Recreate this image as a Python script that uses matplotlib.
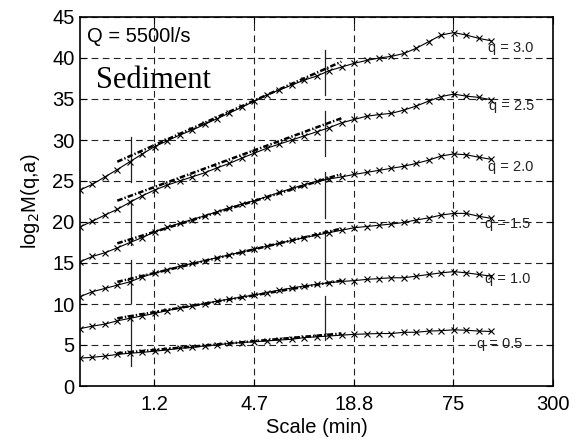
import numpy as np
import matplotlib
matplotlib.use("Agg")
import matplotlib.pyplot as plt

plt.rcParams['font.family'] = ['Liberation Sans', 'DejaVu Sans']
plt.rcParams['lines.scale_dashes'] = False

# Scales: 25 s sampling, quarter-octave steps (minutes)
dt_min = 25 / 60
scales = dt_min * 2 ** (np.arange(34) / 4)

q_labels = ["q = 3.0", "q = 2.5", "q = 2.0", "q = 1.5", "q = 1.0", "q = 0.5"]

logM_q30 = [23.9, 24.6, 25.5, 26.4, 27.35, 28.3, 29.2, 29.9, 30.6, 31.2,
            31.9, 32.6, 33.3, 34.0, 34.75, 35.5, 36.1, 36.7, 37.3, 37.8,
            38.45, 38.9, 39.35, 39.7, 40.0, 40.2, 40.55, 41.2, 42.0, 42.8,
            43.1, 42.8, 42.4, 42.1]
logM_q25 = [19.4, 20.1, 20.85, 21.55, 22.4, 23.2, 23.9, 24.5, 25.0, 25.5,
            26.0, 26.6, 27.15, 27.8, 28.4, 29.0, 29.5, 30.0, 30.5, 31.0,
            31.5, 32.1, 32.5, 32.9, 33.1, 33.25, 33.65, 34.15, 34.75, 35.3,
            35.6, 35.35, 35.2, 34.9]
logM_q20 = [15.15, 15.8, 16.25, 16.85, 17.5, 18.1, 18.8, 19.35, 19.85, 20.3,
            20.75, 21.25, 21.75, 22.2, 22.6, 23.1, 23.6, 24.1, 24.55, 24.95,
            25.25, 25.5, 25.8, 26.05, 26.3, 26.55, 26.8, 27.15, 27.55, 28.05,
            28.3, 28.2, 27.9, 27.65]
logM_q15 = [10.9, 11.5, 11.9, 12.3, 12.7, 13.3, 13.75, 14.2, 14.6, 14.95,
            15.3, 15.65, 16.0, 16.35, 16.7, 17.05, 17.4, 17.75, 18.1, 18.4,
            18.7, 19.0, 19.3, 19.45, 19.6, 19.75, 19.95, 20.25, 20.5, 20.85,
            21.05, 21.05, 20.7, 20.45]
logM_q10 = [7.0, 7.3, 7.55, 7.95, 8.25, 8.55, 8.85, 9.2, 9.5, 9.75,
            10.05, 10.35, 10.6, 10.85, 11.1, 11.4, 11.7, 11.95, 12.2, 12.4,
            12.6, 12.75, 12.85, 13.0, 13.1, 13.2, 13.2, 13.4, 13.6, 13.8,
            13.95, 13.8, 13.6, 13.4]
logM_q05 = [3.4, 3.5, 3.65, 3.85, 4.0, 4.1, 4.25, 4.4, 4.6, 4.7,
            4.9, 5.0, 5.2, 5.3, 5.4, 5.5, 5.6, 5.7, 5.9, 6.0,
            6.1, 6.2, 6.3, 6.35, 6.4, 6.4, 6.55, 6.55, 6.7, 6.75,
            6.85, 6.8, 6.7, 6.65]
curves = [logM_q30, logM_q25, logM_q20, logM_q15, logM_q10, logM_q05]

# Linear fits over the scaling range
fit_range = [0.70, 15.8]
fit_start = [27.35, 22.6, 17.4, 12.7, 8.25, 4.0]
fit_end = [39.55, 32.65, 25.85, 19.2, 12.85, 6.4]

# Curve labels
label_x = [121, 123, 121, 117, 117, 104]
label_y = [41.2, 34.1, 26.7, 19.8, 13.1, 5.1]

# Scaling-range markers
left_mark_x = 0.845
left_marks = [(24.9, 30.4), (17.2, 22.7), (10.1, 15.4), (2.4, 8.3)]
right_mark_x = 12.6
right_marks = [(35.5, 41.0), (28.0, 33.5), (20.5, 26.1), (13.0, 19.0), (5.6, 11.0)]

xticks = [300 / 256, 300 / 64, 300 / 16, 300 / 4, 300]
xtick_labels = ["1.2", "4.7", "18.8", "75", "300"]
yticks = list(range(0, 46, 5))

fig = plt.figure(figsize=(5.78, 4.43), dpi=100)
ax = fig.add_axes([80 / 578, 57 / 443, 473 / 578, 369 / 443])

for y in curves:
    ax.plot(scales, y, color='black', lw=0.8, marker='x', ms=4.5, mew=0.8, zorder=3)

for a, b in zip(fit_start, fit_end):
    ax.plot(fit_range, [a, b], color='black', lw=1.8, ls=(0, (4, 1.5, 1, 1.5)), zorder=3)

for lo, hi in left_marks:
    ax.plot([left_mark_x, left_mark_x], [lo, hi], color='#222222', lw=0.9, zorder=2)
for lo, hi in right_marks:
    ax.plot([right_mark_x, right_mark_x], [lo, hi], color='#222222', lw=0.9, zorder=2)

for lab, lx, ly in zip(q_labels, label_x, label_y):
    ax.text(lx, ly, lab, fontsize=10.5, ha='left', va='center', color='#222222', zorder=1)

ax.text(0.015, 0.948, "Q = 5500l/s", transform=ax.transAxes, fontsize=14.5,
        ha='left', va='center', zorder=1)
ax.text(0.034, 0.828, "Sediment", transform=ax.transAxes, fontsize=22,
        family='Liberation Serif', ha='left', va='center', zorder=1)

ax.set_xscale('log', base=2)
ax.set_xlim(dt_min, 300)
ax.set_ylim(0, 45)
ax.set_xticks(xticks)
ax.set_xticklabels(xtick_labels)
ax.set_yticks(yticks)
ax.minorticks_off()
ax.tick_params(direction='in', length=5, width=0.8, labelsize=14.5,
               top=True, right=True)
ax.tick_params(axis='x', pad=6.5)
ax.tick_params(axis='y', pad=4)
ax.grid(True, color='#222222', lw=0.8, ls=(0, (4.8, 3.2)))
for s in ax.spines.values():
    s.set_linewidth(1.2)

ax.set_xlabel("Scale (min)", fontsize=14.5, labelpad=3)
ax.set_ylabel(r"log$_2$M(q,a)", fontsize=14.5, labelpad=7)

fig.savefig("out.png", dpi=100)
